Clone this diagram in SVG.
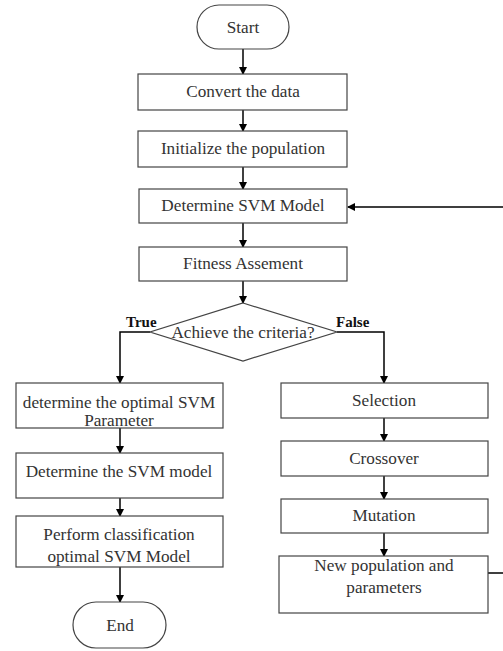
<svg xmlns="http://www.w3.org/2000/svg" width="503" height="651" viewBox="0 0 503 651">
<defs>
<marker id="ah" markerWidth="8" markerHeight="8" refX="7" refY="4" orient="auto" markerUnits="userSpaceOnUse">
<path d="M0,0 L8,4 L0,8 Z" fill="#000"/>
</marker>
</defs>
<style>
.b{fill:#fff;stroke:#444;stroke-width:1.2}
.t{font-family:"Liberation Serif","Times New Roman",serif;font-size:17.2px;fill:#333;text-anchor:middle}
.lb{font-family:"Liberation Serif","Times New Roman",serif;font-size:15px;font-weight:bold;fill:#111}
.c{fill:none;stroke:#000;stroke-width:1.5}
.ca{fill:none;stroke:#000;stroke-width:1.5;marker-end:url(#ah)}
</style>
<rect width="503" height="651" fill="#fff"/>
<g id="connectors">
<line class="ca" x1="243" y1="49" x2="243" y2="74"/>
<line class="ca" x1="243" y1="110" x2="243" y2="131"/>
<line class="ca" x1="243" y1="167" x2="243" y2="189"/>
<line class="ca" x1="243" y1="223" x2="243" y2="247"/>
<line class="ca" x1="243" y1="281" x2="243" y2="303"/>
<polyline class="ca" points="150,332 120,332 120,383"/>
<polyline class="ca" points="337,332 384,332 384,383"/>
<line class="ca" x1="120" y1="428" x2="120" y2="453"/>
<line class="ca" x1="120" y1="498" x2="120" y2="516"/>
<line class="ca" x1="120" y1="567" x2="120" y2="602"/>
<line class="ca" x1="384" y1="418" x2="384" y2="441"/>
<line class="ca" x1="384" y1="476" x2="384" y2="499"/>
<line class="ca" x1="384" y1="533" x2="384" y2="556"/>
<polyline class="ca" points="488,573 512,573 512,207 348,207"/>
</g>
<g id="start"><rect class="b" x="197" y="5" width="92" height="44" rx="22"/><text class="t" x="243" y="33">Start</text></g>
<g id="convert"><rect class="b" x="138" y="74" width="209" height="36"/><text class="t" x="243" y="97">Convert the data</text></g>
<g id="init"><rect class="b" x="138" y="131" width="209" height="36"/><text class="t" x="243" y="154">Initialize the population</text></g>
<g id="svm"><rect class="b" x="139" y="189" width="208" height="34"/><text class="t" x="243" y="211">Determine SVM Model</text></g>
<g id="fitness"><rect class="b" x="139" y="247" width="208" height="34"/><text class="t" x="243" y="269">Fitness Assement</text></g>
<g id="decision"><polygon class="b" points="243,303 337,332 243,361 150,332"/><text class="t" x="243" y="338">Achieve the criteria?</text></g>
<g id="labels"><text class="lb" x="126" y="327">True</text><text class="lb" x="336" y="327">False</text></g>
<g id="optimal"><rect class="b" x="16" y="383" width="207" height="45"/><text class="t" x="119" y="408">determine the optimal SVM</text><text class="t" x="119" y="426">Parameter</text></g>
<g id="svmmodel"><rect class="b" x="16" y="453" width="207" height="45"/><text class="t" x="119" y="477">Determine the SVM model</text></g>
<g id="perform"><rect class="b" x="16" y="516" width="207" height="51"/><text class="t" x="119" y="540">Perform classification</text><text class="t" x="119" y="562">optimal SVM Model</text></g>
<g id="end"><rect class="b" x="73" y="602" width="93" height="46" rx="23"/><text class="t" x="120" y="631">End</text></g>
<g id="selection"><rect class="b" x="281" y="383" width="207" height="35"/><text class="t" x="384" y="406">Selection</text></g>
<g id="crossover"><rect class="b" x="281" y="441" width="207" height="35"/><text class="t" x="384" y="464">Crossover</text></g>
<g id="mutation"><rect class="b" x="281" y="499" width="207" height="34"/><text class="t" x="384" y="521">Mutation</text></g>
<g id="newpop"><rect class="b" x="279" y="556" width="209" height="57"/><text class="t" x="384" y="571">New population and</text><text class="t" x="384" y="593">parameters</text></g>
</svg>
